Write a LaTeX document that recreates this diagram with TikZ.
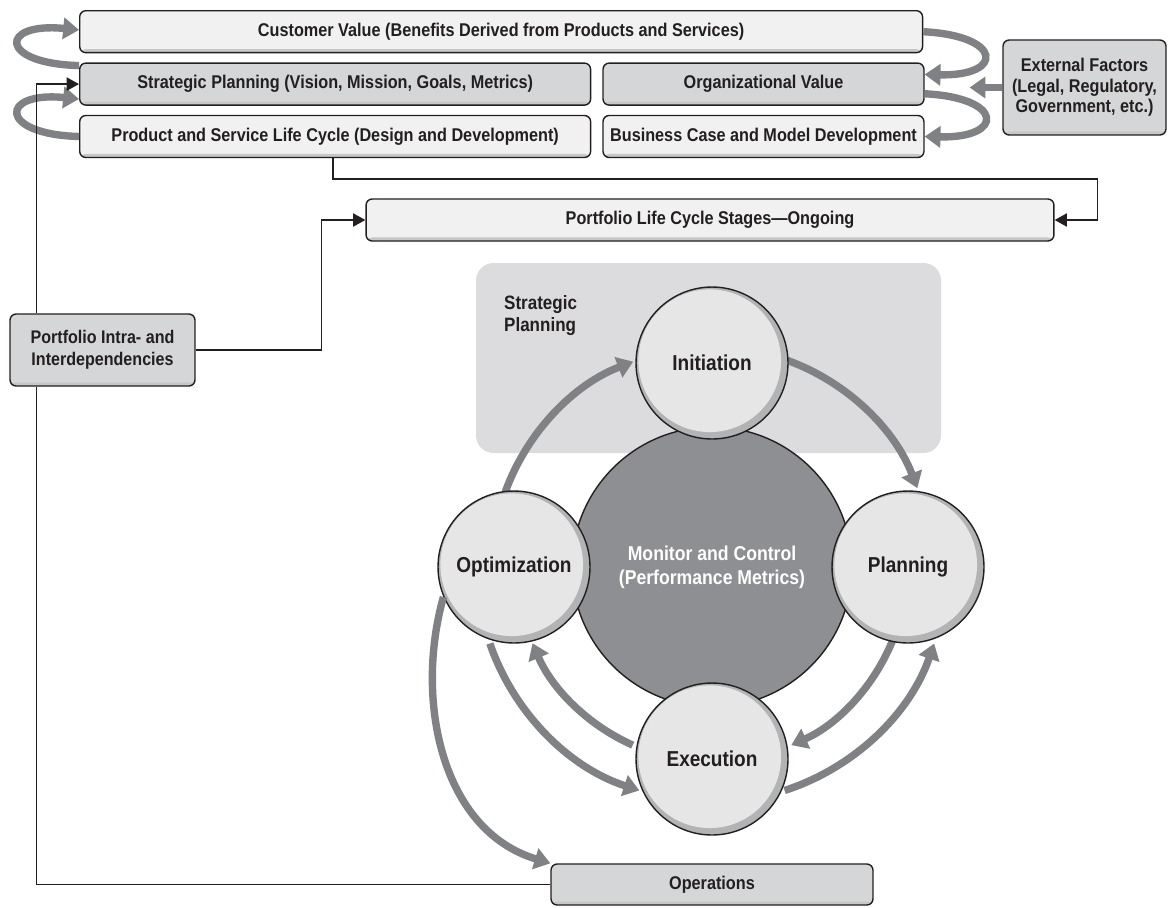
\documentclass[tikz,border=0pt]{standalone}
\usepackage{fontspec}
\setmainfont{Liberation Sans}[FakeStretch=0.88]
\usepackage{tikz}
\usetikzlibrary{arrows.meta, positioning, calc}

\definecolor{inkdark}{HTML}{231F20}
\definecolor{boxlight}{HTML}{F1F1F2}
\definecolor{boxdark}{HTML}{D5D6D8}
\definecolor{bandgray}{HTML}{DCDCDE}
\definecolor{ballfill}{HTML}{E6E6E7}
\definecolor{ballrim}{HTML}{B2B3B5}
\definecolor{hubfill}{HTML}{8E8F92}
\definecolor{flowgray}{HTML}{808184}

\begin{document}
\begin{tikzpicture}[
  x=0.02cm, y=-0.02cm,
  font=\bfseries\fontsize{10.5}{11.6}\selectfont, text=inkdark,
  box/.style={rectangle, rounded corners=3.5pt, draw=inkdark, line width=0.8pt, minimum height=0.84cm, inner sep=0pt, align=center,
    path picture={\fill[black!22] (path picture bounding box.south west) rectangle ([yshift=2pt]path picture bounding box.south east);}},
  lightbox/.style={box, fill=boxlight},
  darkbox/.style={box, fill=boxdark},
  ball/.style={circle, draw=inkdark, line width=0.8pt, minimum size=3.04cm, inner sep=0pt, font=\bfseries\fontsize{12.3}{14}\selectfont,
    path picture={\fill[ballrim] (path picture bounding box.south west) rectangle (path picture bounding box.north east);
      \fill[ballfill] ([xshift=-1.3pt,yshift=1.3pt]path picture bounding box.center) circle[radius=40.6pt];}},
  hub/.style={circle, draw=inkdark, line width=0.8pt, fill=hubfill, minimum size=5.6cm, text=white, align=center, font=\bfseries\fontsize{11.4}{13.8}\selectfont},
  flow/.style={draw=flowgray, line width=4.2pt, -{Triangle[length=9pt, width=12pt]}},
  link/.style={draw=inkdark, line width=0.9pt},
  linkarr/.style={link, -{Triangle[length=7pt, width=7.5pt]}}
]
\path[use as bounding box, fill=white] (0,0) rectangle (1172,907);

% strategic planning band behind the cycle
\fill[bandgray, rounded corners=10pt] (476,263) rectangle (941,453);
\node[anchor=north west, align=left, font=\bfseries\fontsize{11}{12.5}\selectfont] (stratlbl) at (498,289) {Strategic\\Planning};

% life cycle
\node[hub] (mon) at (712,567) {Monitor and Control\\(Performance Metrics)};

\draw[flow] (mon) ++(160:4.4cm) arc[start angle=160, end angle=111, radius=4.4cm];
\draw[flow] (mon) ++(70:4.4cm) arc[start angle=70, end angle=21, radius=4.4cm];
\draw[flow] (mon) ++(-22:3.9cm) arc[start angle=-22, end angle=-66, radius=3.9cm];
\draw[flow] (mon) ++(-72:4.7cm) arc[start angle=-72, end angle=-19, radius=4.7cm];
\draw[flow] (mon) ++(246:3.9cm) arc[start angle=246, end angle=203, radius=3.9cm];
\draw[flow] (mon) ++(199:4.7cm) arc[start angle=199, end angle=252, radius=4.7cm];

\node[ball] (init) at (712,363) {Initiation};
\node[ball] (plan) at (908,567) {Planning};
\node[ball] (exec) at (712,759) {Execution};
\node[ball] (opt) at (514,567) {Optimization};

% portfolio boxes
\node[lightbox, minimum width=16.86cm, anchor=north west] (cust) at (79,10) {Customer Value (Benefits Derived from Products and Services)};
\node[darkbox, minimum width=10.22cm, below right=0.18cm and 0cm of cust.south west] (strat) {Strategic Planning (Vision, Mission, Goals, Metrics)};
\node[darkbox, minimum width=6.42cm, right=0.22cm of strat] (org) {Organizational Value};
\node[lightbox, minimum width=10.22cm, below right=0.18cm and 0cm of strat.south west] (prod) {Product and Service Life Cycle (Design and Development)};
\node[lightbox, minimum width=6.42cm, right=0.22cm of prod] (biz) {Business Case and Model Development};
\node[darkbox, minimum width=3.26cm, minimum height=1.9cm] (ext) at (1084.5,87.5) {External Factors\\(Legal, Regulatory,\\Government, etc.)};
\node[lightbox, minimum width=13.76cm] (plc) at (710,220) {Portfolio Life Cycle Stages—Ongoing};
\node[darkbox, minimum width=3.7cm, minimum height=1.44cm, font=\bfseries\fontsize{10.4}{12.3}\selectfont] (intra) at (102.5,350) {Portfolio Intra- and\\Interdependencies};
\node[darkbox, minimum width=6.44cm, minimum height=0.82cm] (ops) at (712,884.5) {Operations};

% value loops
\draw[flow] ([yshift=-1.8pt]strat.north west) .. controls +(-81,-2) and +(-80,-8) .. ([yshift=1pt]cust.west);
\draw[flow] (prod.west) .. controls +(-81,-2) and +(-80,-8) .. ([yshift=-8.5pt]strat.west);
\draw[flow] (cust.east) .. controls +(80,4) and +(80,2) .. ([yshift=5.5pt]org.east);
\draw[flow] ([yshift=-5.5pt]org.east) .. controls +(80,4) and +(80,2) .. (biz.east);
\coordinate (extin) at ($(org.east |- ext.west)+(45,0)$);
\draw[flow] (ext.west) -- (extin);
\draw[flow] (opt.203) .. controls +(-29,103) and +(-109,-33) .. (ops.north west);

% feedback lines
\draw[linkarr] ([xshift=5.08cm]prod.south west) -- ++(0,21) -| ([xshift=0.86cm]plc.east) -- (plc.east);
\draw[linkarr] (intra.east) -| ([xshift=-0.88cm]plc.west) -- (plc.west);
\draw[link] (ops.west) -| ([xshift=0.54cm]intra.south west);
\draw[linkarr] ([xshift=0.54cm]intra.north west) |- (strat.west);
\end{tikzpicture}
\end{document}
